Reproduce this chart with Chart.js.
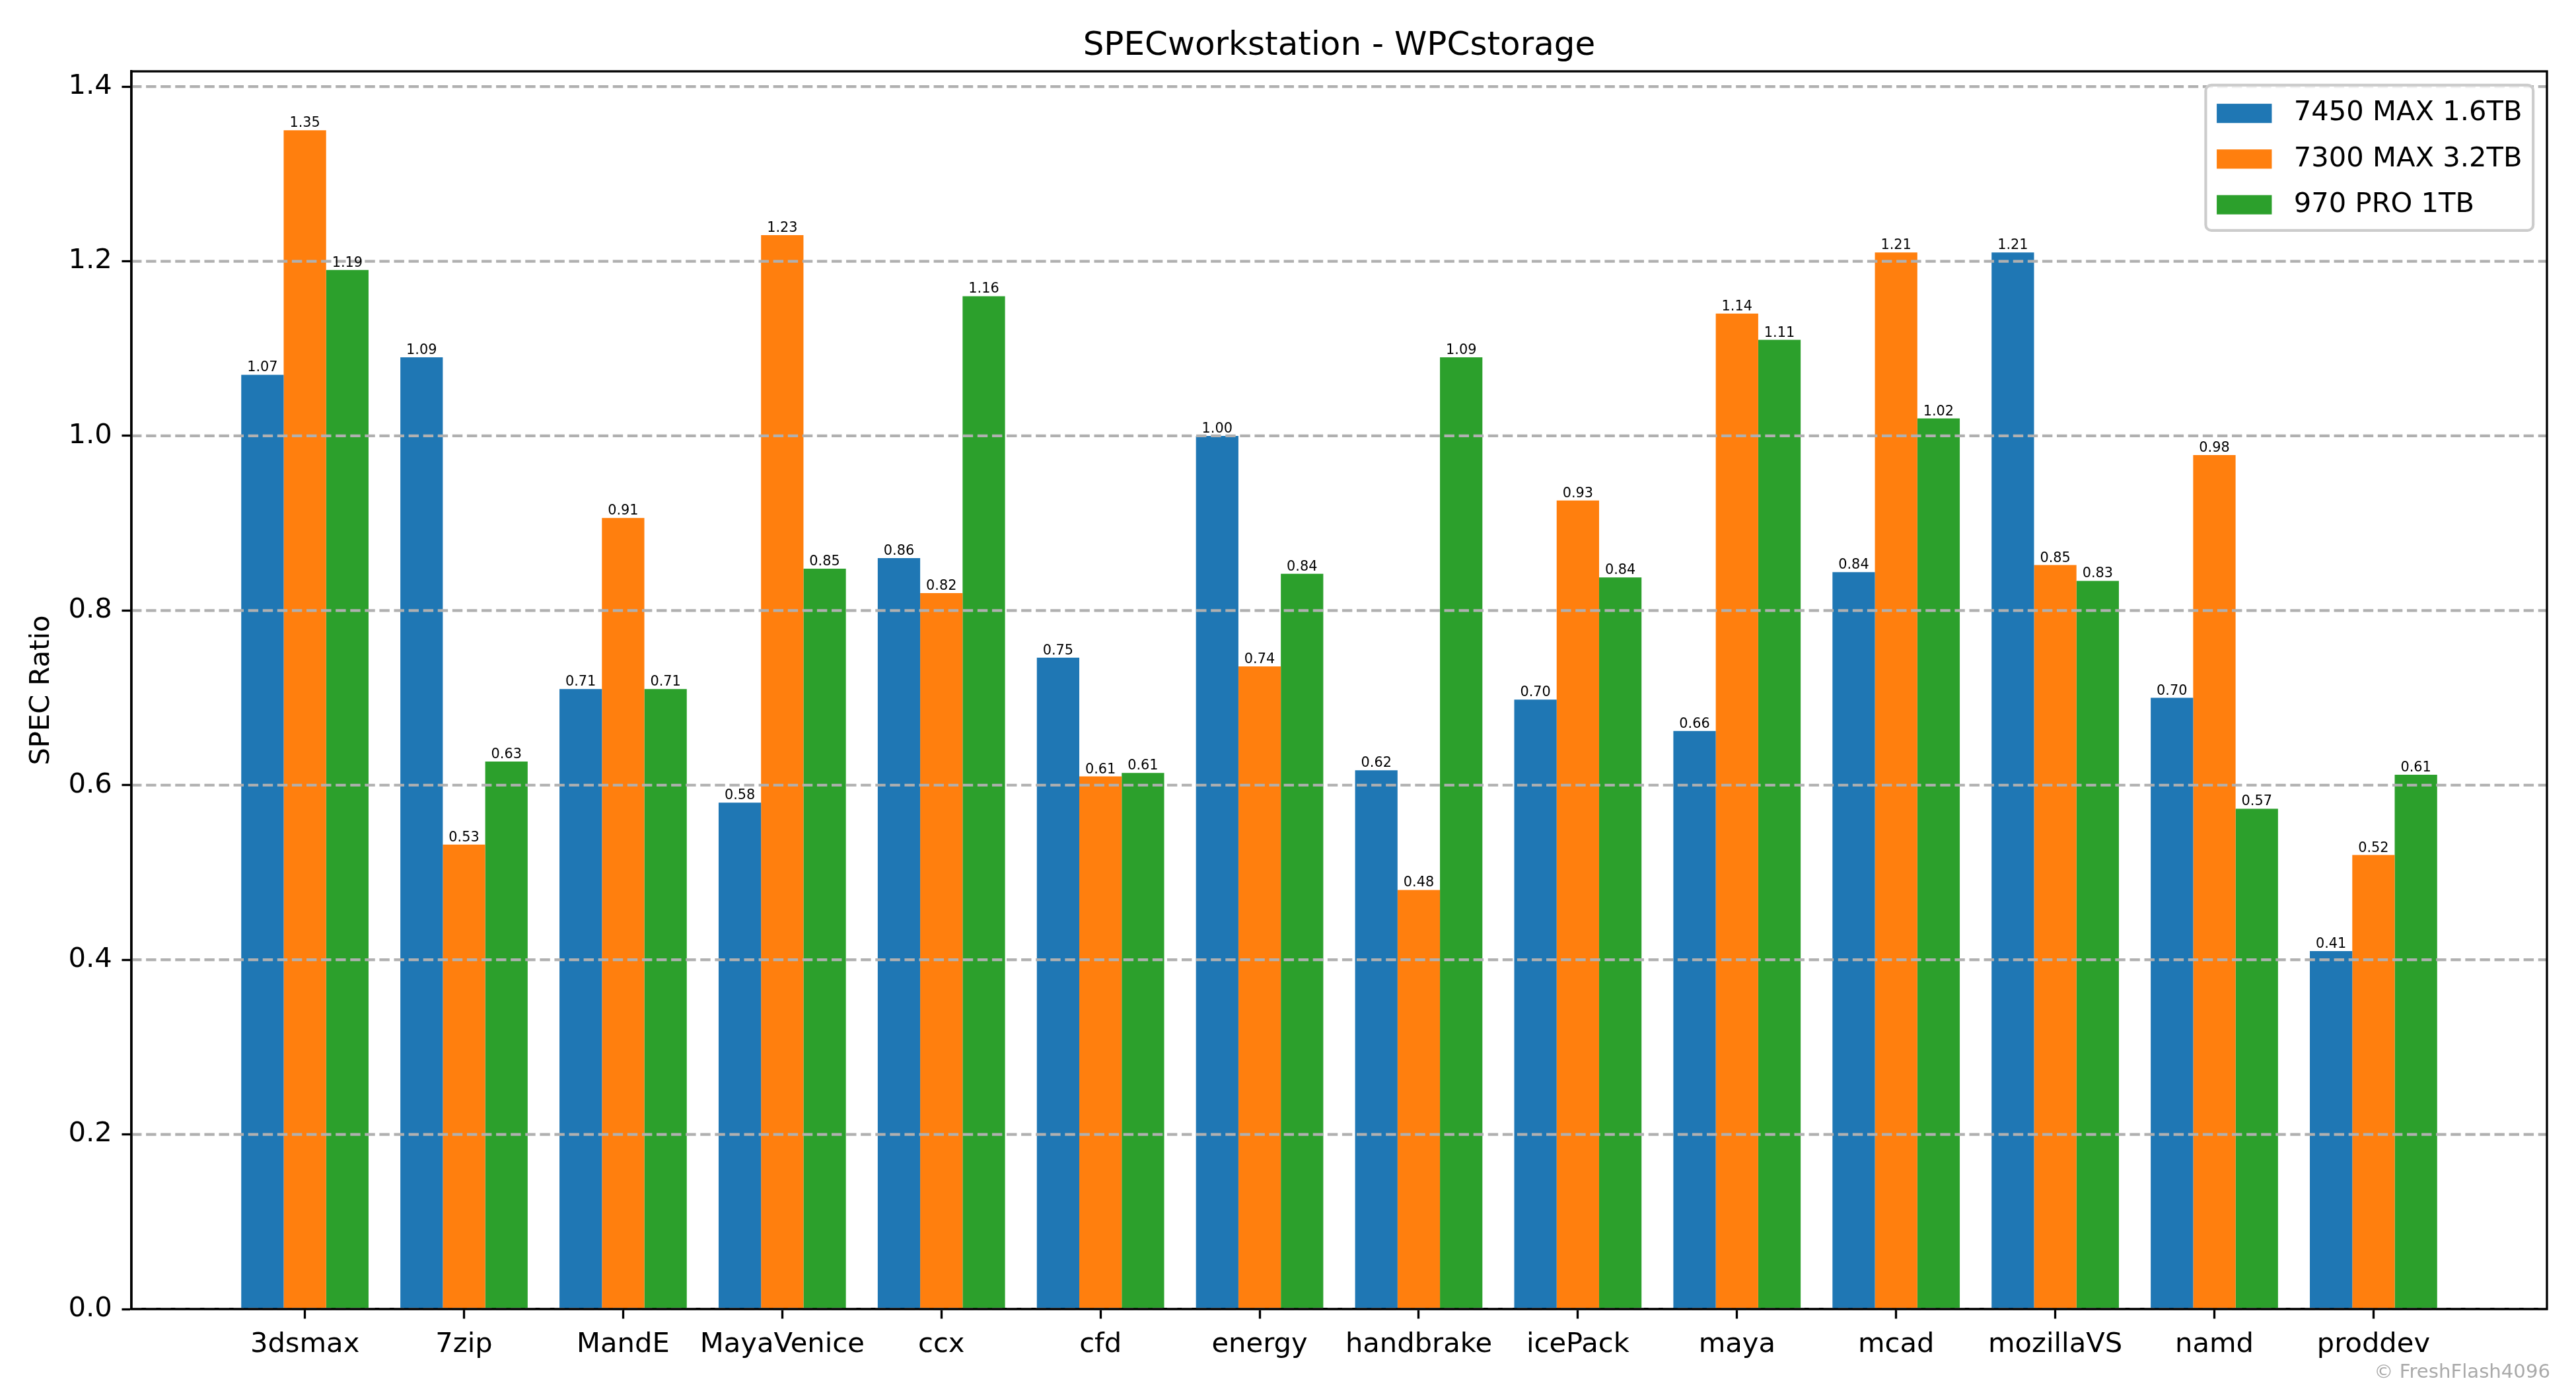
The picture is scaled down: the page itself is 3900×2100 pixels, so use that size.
<!DOCTYPE html>
<html>
<head>
<meta charset="utf-8">
<script src="https://cdn.jsdelivr.net/npm/chart.js@4.4.1/dist/chart.umd.min.js"></script>
<style>
  html, body { margin: 0; padding: 0; background: #ffffff; }
  #wrap { width: 3900px; height: 2100px; }
</style>
</head>
<body>
<div id="wrap"><canvas id="c" width="3900" height="2100"></canvas></div>
<script>
// ---- data ----
const categories = ['3dsmax', '7zip', 'MandE', 'MayaVenice', 'ccx', 'cfd', 'energy', 'handbrake', 'icePack', 'maya', 'mcad', 'mozillaVS', 'namd', 'proddev'];
const seriesNames = ['7450 MAX 1.6TB', '7300 MAX 3.2TB', '970 PRO 1TB'];
const values7450 = [1.07, 1.09, 0.71, 0.58, 0.86, 0.746, 1.00, 0.617, 0.698, 0.662, 0.844, 1.21, 0.70, 0.41];
const values7300 = [1.35, 0.532, 0.906, 1.23, 0.82, 0.61, 0.736, 0.48, 0.926, 1.14, 1.21, 0.852, 0.978, 0.52];
const values970  = [1.19, 0.627, 0.71, 0.848, 1.16, 0.614, 0.842, 1.09, 0.838, 1.11, 1.02, 0.834, 0.573, 0.612];
const yTicks = [0.0, 0.2, 0.4, 0.6, 0.8, 1.0, 1.2, 1.4];
const titleText = 'SPECworkstation - WPCstorage';
const yLabel = 'SPEC Ratio';
const watermark = '\u00A9 FreshFlash4096';

// ---- styles ----
const colors = ['#1f77b4', '#ff7f0e', '#2ca02c'];
const FONT = 'DejaVu Sans';
const PT = 300 / 72;
const tickFs = 10 * PT;
const lw = 0.8 * PT;

function fmt2(v) { return v.toFixed(2); }

const datasets = [values7450, values7300, values970].map((vals, k) => ({
  label: seriesNames[k],
  data: vals.map((v, i) => ({ x: i, y: v })),
  backgroundColor: colors[k],
  borderWidth: 0,
  categoryPercentage: 0.8,
  barPercentage: 1.0
}));

const overlay = {
  id: 'overlay',
  afterDatasetsDraw(chart) {
    const ctx = chart.ctx;
    const ca = chart.chartArea;
    const ys = chart.scales.y;
    // grid over bars
    ctx.save();
    ctx.strokeStyle = '#b0b0b0';
    ctx.lineWidth = 1.0 * PT;
    ctx.setLineDash([3.7 * PT, 1.6 * PT]);
    yTicks.forEach(v => {
      const y = ys.getPixelForValue(v);
      ctx.beginPath();
      ctx.moveTo(ca.left, y);
      ctx.lineTo(ca.right, y);
      ctx.stroke();
    });
    ctx.restore();
    // value labels
    ctx.save();
    ctx.fillStyle = '#000';
    ctx.font = (5 * PT) + 'px "' + FONT + '"';
    ctx.textAlign = 'center';
    ctx.textBaseline = 'alphabetic';
    chart.data.datasets.forEach((ds, k) => {
      const meta = chart.getDatasetMeta(k);
      meta.data.forEach((bar, i) => {
        ctx.fillText(fmt2(ds.data[i].y), bar.x, bar.y - 5);
      });
    });
    ctx.restore();
  },
  afterDraw(chart) {
    const ctx = chart.ctx;
    const ca = chart.chartArea;
    // frame
    ctx.save();
    ctx.strokeStyle = '#000';
    ctx.lineWidth = lw;
    ctx.strokeRect(ca.left, ca.top, ca.right - ca.left, ca.bottom - ca.top);
    ctx.restore();
    // title
    ctx.save();
    ctx.fillStyle = '#000';
    ctx.font = (12 * PT) + 'px "' + FONT + '"';
    ctx.textAlign = 'center';
    ctx.textBaseline = 'alphabetic';
    ctx.fillText(titleText, (ca.left + ca.right) / 2, ca.top - 6 * PT);
    ctx.restore();
    // legend
    const fs = tickFs;
    const pad = 0.4 * fs, rowH = fs * 1.16, spacing = 0.5 * fs;
    const handleW = 2.0 * fs, handleH = 0.7 * fs, textPad = 0.8 * fs;
    ctx.save();
    ctx.font = fs + 'px "' + FONT + '"';
    let maxW = 0;
    seriesNames.forEach(n => { maxW = Math.max(maxW, ctx.measureText(n).width); });
    const boxW = pad * 2 + handleW + textPad + maxW;
    const boxH = pad * 2 + rowH * 3 + spacing * 2;
    const bx = ca.right - 0.5 * fs - boxW;
    const by = ca.top + 0.5 * fs;
    ctx.beginPath();
    ctx.roundRect(bx, by, boxW, boxH, 0.2 * fs);
    ctx.fillStyle = 'rgba(255,255,255,0.8)';
    ctx.fill();
    ctx.strokeStyle = '#cccccc';
    ctx.lineWidth = 1.0 * PT;
    ctx.stroke();
    seriesNames.forEach((n, i) => {
      const cy = by + pad + rowH / 2 + i * (rowH + spacing);
      ctx.fillStyle = colors[i];
      ctx.fillRect(bx + pad, cy - handleH / 2 + 2, handleW, handleH);
      ctx.fillStyle = '#000';
      ctx.textAlign = 'left';
      ctx.textBaseline = 'middle';
      ctx.fillText(n, bx + pad + handleW + textPad, cy + 2);
    });
    ctx.restore();
    // watermark
    ctx.save();
    ctx.fillStyle = '#aaaaaa';
    ctx.font = (7 * PT) + 'px "' + FONT + '"';
    ctx.textAlign = 'right';
    ctx.textBaseline = 'alphabetic';
    ctx.fillText(watermark, chart.width * 0.99, chart.height - 14);
    ctx.restore();
  }
};

new Chart(document.getElementById('c'), {
  type: 'bar',
  data: { datasets },
  options: {
    responsive: false,
    animation: false,
    devicePixelRatio: 1,
    layout: { padding: { top: 108, right: 44, left: 0, bottom: 0 } },
    plugins: { legend: { display: false }, title: { display: false }, tooltip: { enabled: false } },
    scales: {
      x: {
        type: 'linear',
        min: -1.09,
        max: 14.09,
        offset: false,
        afterBuildTicks: (s) => { s.ticks = categories.map((_, i) => ({ value: i })); },
        afterFit: (s) => { s.height = 118; },
        ticks: {
          callback: (v) => categories[v] !== undefined ? categories[v] : '',
          autoSkip: false, maxRotation: 0, minRotation: 0,
          color: '#000', padding: 3.5 * PT,
          font: { family: FONT, size: tickFs }
        },
        grid: { offset: false, drawOnChartArea: false, drawTicks: true, tickLength: 3.5 * PT, tickColor: '#000', tickWidth: lw },
        border: { display: true, color: '#000', width: lw }
      },
      y: {
        type: 'linear',
        min: 0,
        max: 1.4175,
        afterBuildTicks: (s) => { s.ticks = yTicks.map(v => ({ value: v })); },
        afterFit: (s) => { s.width = 199; },
        ticks: {
          callback: (v) => Number(v).toFixed(1),
          color: '#000', padding: 3.5 * PT,
          font: { family: FONT, size: tickFs }
        },
        grid: { offset: false, drawOnChartArea: false, drawTicks: true, tickLength: 3.5 * PT, tickColor: '#000', tickWidth: lw },
        border: { display: true, color: '#000', width: lw },
        title: { display: true, text: yLabel, color: '#000', font: { family: FONT, size: tickFs }, padding: { top: 38, bottom: 0 } }
      }
    }
  },
  plugins: [overlay]
});
</script>
</body>
</html>
